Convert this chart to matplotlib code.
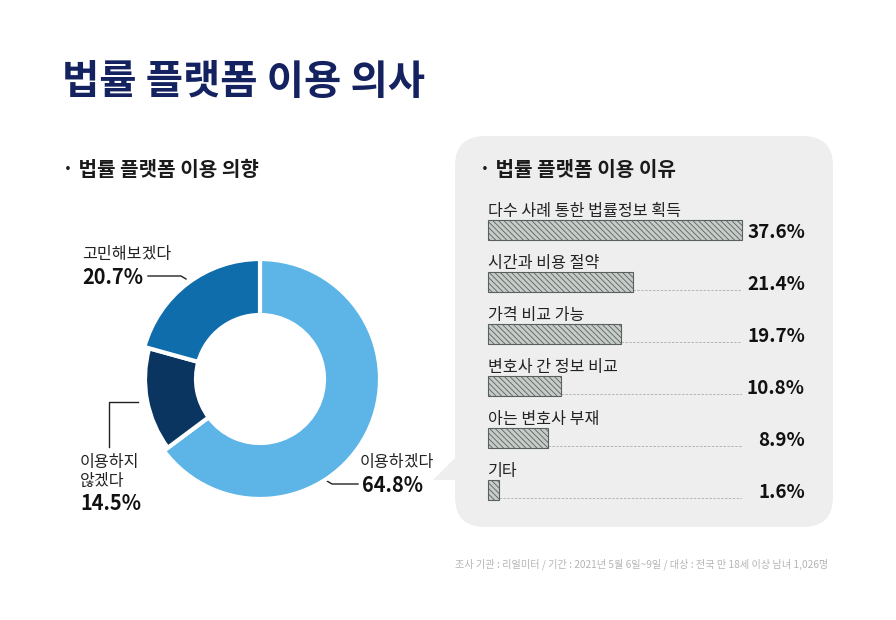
import matplotlib
matplotlib.use("Agg")
import matplotlib.pyplot as plt
from matplotlib.patches import FancyBboxPatch, Polygon

plt.rcParams['font.family'] = ['Noto Sans CJK KR', 'DejaVu Sans']
plt.rcParams['hatch.linewidth'] = 0.6

# 도넛 차트 데이터
pie_values = [64.8, 14.5, 20.7]
pie_colors = ['#5db4e6', '#0a3560', '#0f6dab']

# 막대 차트 데이터
reasons = ['다수 사례 통한 법률정보 획득', '시간과 비용 절약', '가격 비교 가능',
           '변호사 간 정보 비교', '아는 변호사 부재', '기타']
reason_values = [37.6, 21.4, 19.7, 10.8, 8.9, 1.6]

W, H = 896, 620
fig = plt.figure(figsize=(W / 100, H / 100), dpi=100, facecolor='white')

# 픽셀 좌표로 쓰는 배경 축
bg = fig.add_axes([0, 0, 1, 1])
bg.set_xlim(0, W)
bg.set_ylim(H, 0)
bg.axis('off')

bg.text(62, 83, '법률 플랫폼 이용 의사', fontsize=29.2, fontweight='bold', color='#14225f', va='center')
bg.text(62, 170, '· 법률 플랫폼 이용 의향', fontsize=14.5, fontweight='bold', color='#1a1a1a', va='center')

# 회색 말풍선
bg.add_patch(FancyBboxPatch((485, 166), 318, 331, boxstyle='round,pad=30,rounding_size=30',
                            fc='#eeeeee', ec='none'))
bg.add_patch(Polygon([(456, 457), (433, 480), (456, 480)], fc='#eeeeee', ec='none'))
bg.text(479, 170, '· 법률 플랫폼 이용 이유', fontsize=14.5, fontweight='bold', color='#1a1a1a', va='center')

# 도넛
ax = fig.add_axes([(260 - 125) / W, 1 - (379 + 125) / H, 250 / W, 250 / H])
wedges, _ = ax.pie(pie_values, colors=pie_colors, startangle=90, counterclock=False, radius=1,
                   wedgeprops=dict(width=56 / 120, edgecolor='white', linewidth=3))
# 짙은 조각은 바깥 반지름이 조금 작다
wedges[1].set_radius(115 / 120)
wedges[1].set_width(51 / 120)
ax.set_xlim(-125 / 120, 125 / 120)
ax.set_ylim(-125 / 120, 125 / 120)

# 도넛 라벨
bg.text(82, 254, '고민해보겠다', fontsize=11.6, color='#222222', va='center')
bg.text(82, 277, '20.7%', fontsize=14.4, fontweight='bold', color='#111111', va='center')
bg.plot([148, 181, 186], [276, 276, 279], color='#222222', lw=1)
bg.plot([138, 109, 109], [402, 402, 447], color='#222222', lw=1)
bg.text(80, 462, '이용하지', fontsize=11.6, color='#222222', va='center')
bg.text(80, 481, '않겠다', fontsize=11.6, color='#222222', va='center')
bg.text(80, 503, '14.5%', fontsize=14.4, fontweight='bold', color='#111111', va='center')
bg.text(360, 462, '이용하겠다', fontsize=11.6, color='#222222', va='center')
bg.text(362, 485, '64.8%', fontsize=14.4, fontweight='bold', color='#111111', va='center')
bg.plot([327, 332, 358], [481, 484, 484], color='#222222', lw=1)

# 막대
bx = fig.add_axes([488 / W, 1 - 516 / H, 254 / W, 312 / H])
bx.patch.set_alpha(0)
rows = list(range(len(reasons)))
bars = bx.barh(rows, reason_values, height=20 / 52, color='#c6cdc9', edgecolor='#5a605d',
               hatch='\\\\\\\\\\\\', linewidth=0.8, zorder=2)
for b in bars:
    b.set_clip_on(False)
bx.set_xlim(0, max(reason_values))
bx.set_ylim(5.5, -0.5)
bx.axis('off')

bar_half = 10 / 52
for row, name, val in zip(rows, reasons, reason_values):
    bx.plot([val, max(reason_values)], [row + bar_half - 2 / 52] * 2, color='#b4b4b4',
            lw=0.7, ls=(0, (2.5, 1.5)), zorder=1)
    bx.text(0, row - bar_half, name, fontsize=11.6, color='#222222', va='bottom', ha='left')
    bg.text(805, 232 + 52 * row, f'{val}%', fontsize=13.6, fontweight='bold', color='#111111',
            va='center', ha='right')

bg.text(828, 564, '조사 기관 : 리얼미터 / 기간 : 2021년 5월 6일~9일 / 대상 : 전국 만 18세 이상 남녀 1,026명',
        fontsize=7.3, color='#b5b5b5', va='center', ha='right')

fig.savefig('out.png', dpi=100)
